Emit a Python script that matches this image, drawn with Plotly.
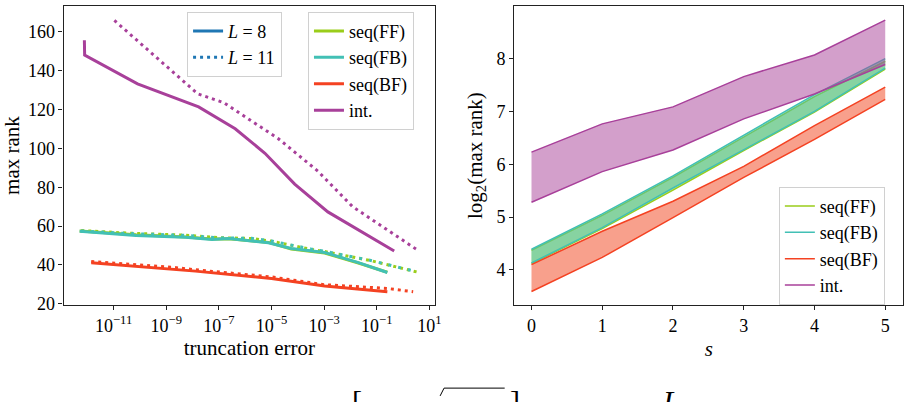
import plotly.graph_objects as go

W, H = 916, 402
FONT = "Liberation Serif"

# ---------------- data: left panel (max rank vs truncation error) ----------------
ff8_logerr = [-12.29, -10.15, -8.27, -7.26, -6.63, -5.12, -4.25, -2.98, -1.73, -0.60]
ff8_rank = [57.5, 55.5, 54.4, 53.3, 53.5, 51.6, 48.2, 46.1, 41.1, 36.2]
fb8_logerr = [-12.29, -10.15, -8.27, -7.26, -6.63, -5.12, -4.25, -2.98, -1.73, -0.60]
fb8_rank = [57.3, 55.2, 54.2, 53.1, 53.6, 51.4, 48.5, 46.4, 41.3, 36.1]
ff11_logerr = [-12.23, -10.5, -8.27, -7.0, -5.75, -5.0, -3.5, -2.98, -1.23, 0.54]
ff11_rank = [57.7, 56.4, 55.3, 54.0, 53.6, 52.2, 48.0, 46.9, 42.2, 36.3]
fb11_logerr = [-12.23, -10.5, -8.27, -7.0, -5.75, -5.0, -3.5, -2.98, -1.23, 0.54]
fb11_rank = [57.5, 56.2, 55.2, 53.9, 53.7, 52.3, 48.2, 47.0, 42.3, 36.4]
bf8_logerr = [-11.85, -8.77, -7.89, -5.0, -2.98, -0.60]
bf8_rank = [41.1, 38.0, 36.8, 33.0, 29.1, 26.2]
bf11_logerr = [-11.85, -8.77, -7.89, -5.0, -2.98, -0.60, 0.38]
bf11_rank = [41.7, 38.8, 37.5, 33.8, 29.8, 27.9, 26.2]
int8_logerr = [-12.11, -12.10, -10.09, -7.77, -6.38, -5.25, -4.12, -2.86, -0.34]
int8_rank = [155.7, 148.0, 133.2, 121.4, 110.1, 97.5, 81.6, 67.3, 47.2]
int11_logerr = [-10.97, -7.80, -6.82, -4.75, -3.24, -1.92, 0.54]
int11_rank = [165.9, 128.1, 123.6, 105.1, 88.3, 70.0, 47.7]

x_tick_exps = [-11, -9, -7, -5, -3, -1, 1]
y_ticks_left = [20, 40, 60, 80, 100, 120, 140, 160]

# ---------------- data: right panel (log2 max rank vs s) ----------------
s_vals = [0, 1, 2, 3, 4, 5]
ff_low = [4.12, 4.78, 5.51, 6.26, 6.99, 7.80]
ff_high = [4.37, 5.03, 5.75, 6.52, 7.28, 7.95]
fb_low = [4.13, 4.80, 5.55, 6.28, 7.00, 7.82]
fb_high = [4.39, 5.06, 5.78, 6.55, 7.32, 8.00]
bf_low = [3.59, 4.235, 4.99, 5.75, 6.47, 7.23]
bf_high = [4.10, 4.73, 5.30, 5.96, 6.73, 7.46]
int_low = [5.28, 5.86, 6.27, 6.86, 7.33, 7.89]
int_high = [6.23, 6.765, 7.087, 7.66, 8.07, 8.73]

method_names = ["seq(FF)", "seq(FB)", "seq(BF)", "int."]
C_FF = "#9acd1a"
C_FB = "#42c0b5"
C_BF = "#f44222"
C_INT = "#a8409a"
FILL = {"ff": "rgba(154,205,26,0.5)", "fb": "rgba(66,192,181,0.5)",
        "bf": "rgba(241,65,25,0.5)", "int": "rgba(167,63,151,0.5)"}
C_L = "#1f77b4"


def px_x(p):
    return p / W


def px_y(p):
    return 1 - p / H


def pw(v):
    return [10 ** e for e in v]


fig = go.Figure()

LW = 3
DOT = "3px,4px"
# left panel lines
fig.add_trace(go.Scatter(x=pw(ff8_logerr), y=ff8_rank, mode="lines", line=dict(color=C_FF, width=LW),
                         showlegend=False, xaxis="x", yaxis="y"))
fig.add_trace(go.Scatter(x=pw(ff11_logerr), y=ff11_rank, mode="lines", line=dict(color=C_FF, width=LW, dash=DOT),
                         showlegend=False, xaxis="x", yaxis="y"))
fig.add_trace(go.Scatter(x=pw(fb8_logerr), y=fb8_rank, mode="lines", line=dict(color=C_FB, width=LW),
                         showlegend=False, xaxis="x", yaxis="y"))
fig.add_trace(go.Scatter(x=pw(fb11_logerr), y=fb11_rank, mode="lines", line=dict(color=C_FB, width=LW, dash="3px,7px"),
                         showlegend=False, xaxis="x", yaxis="y"))
fig.add_trace(go.Scatter(x=pw(bf8_logerr), y=bf8_rank, mode="lines", line=dict(color=C_BF, width=LW),
                         showlegend=False, xaxis="x", yaxis="y"))
fig.add_trace(go.Scatter(x=pw(bf11_logerr), y=bf11_rank, mode="lines", line=dict(color=C_BF, width=LW, dash=DOT),
                         showlegend=False, xaxis="x", yaxis="y"))
fig.add_trace(go.Scatter(x=pw(int8_logerr), y=int8_rank, mode="lines", line=dict(color=C_INT, width=LW),
                         showlegend=False, xaxis="x", yaxis="y"))
fig.add_trace(go.Scatter(x=pw(int11_logerr), y=int11_rank, mode="lines", line=dict(color=C_INT, width=LW, dash=DOT),
                         showlegend=False, xaxis="x", yaxis="y"))

# legend 1 (line styles)
fig.add_trace(go.Scatter(x=[None], y=[None], mode="lines", line=dict(color=C_L, width=LW),
                         name="<i>L</i> = 8", legend="legend", xaxis="x", yaxis="y"))
fig.add_trace(go.Scatter(x=[None], y=[None], mode="lines", line=dict(color=C_L, width=LW, dash=DOT),
                         name="<i>L</i> = 11", legend="legend", xaxis="x", yaxis="y"))
# legend 2 (methods, thick)
for nm, c in zip(method_names, [C_FF, C_FB, C_BF, C_INT]):
    fig.add_trace(go.Scatter(x=[None], y=[None], mode="lines", line=dict(color=c, width=LW),
                             name=nm, legend="legend2", xaxis="x", yaxis="y"))

# right panel bands
bands = [("ff", ff_low, ff_high, C_FF), ("fb", fb_low, fb_high, C_FB),
         ("bf", bf_low, bf_high, C_BF), ("int", int_low, int_high, C_INT)]
for key, lo, hi, c in bands:
    fig.add_trace(go.Scatter(x=s_vals, y=lo, mode="lines", line=dict(color=c, width=1.5),
                             showlegend=False, xaxis="x2", yaxis="y2"))
    fig.add_trace(go.Scatter(x=s_vals, y=hi, mode="lines", line=dict(color=c, width=1.5),
                             fill="tonexty", fillcolor=FILL[key],
                             showlegend=False, xaxis="x2", yaxis="y2"))
# legend 3
for nm, c in zip(method_names, [C_FF, C_FB, C_BF, C_INT]):
    fig.add_trace(go.Scatter(x=[None], y=[None], mode="lines", line=dict(color=c, width=1.5),
                             name=nm, legend="legend3", xaxis="x2", yaxis="y2"))

axis_common = dict(showline=True, mirror=True, linecolor="#222", linewidth=1.2,
                   ticks="outside", ticklen=4, tickcolor="#222", showgrid=False, zeroline=False,
                   tickfont=dict(family=FONT, size=18, color="black"))

leg_common = dict(xanchor="left", yanchor="top", bgcolor="rgba(255,255,255,0.85)",
                  bordercolor="#d0d0d0", borderwidth=1, font=dict(family=FONT, size=18, color="black"),
                  tracegroupgap=0, itemwidth=30, traceorder="normal")

fig.update_layout(
    width=W, height=H, margin=dict(l=0, r=0, t=0, b=0),
    paper_bgcolor="white", plot_bgcolor="white",
    font=dict(family=FONT, size=18, color="black"),
    xaxis=dict(domain=[px_x(64), px_x(438)], anchor="y", type="log", range=[-12.9, 1.215],
               tickvals=[10 ** e for e in x_tick_exps],
               ticktext=["10<sup>%s</sup>" % (str(e).replace("-", "\u2212")) for e in x_tick_exps],
               title=dict(text="truncation error", font=dict(family=FONT, size=21), standoff=4),
               **axis_common),
    yaxis=dict(domain=[px_y(312.3), px_y(6)], anchor="x", range=[19.2, 173.4], tickvals=y_ticks_left,
               title=dict(text="max rank", font=dict(family=FONT, size=21), standoff=8),
               **axis_common),
    xaxis2=dict(domain=[px_x(517.7), px_x(909.3)], anchor="y2", range=[-0.243, 5.256], tickvals=s_vals,
                title=dict(text="<i>s</i>", font=dict(family=FONT, size=21), standoff=6),
                **axis_common),
    yaxis2=dict(domain=[px_y(312.3), px_y(6)], anchor="x2", range=[3.328, 9.0], tickvals=[4, 5, 6, 7, 8],
                title=dict(text="log<sub>2</sub>(max rank)", font=dict(family=FONT, size=21), standoff=8),
                **axis_common),
    legend=dict(x=px_x(188.3), y=px_y(12), **leg_common),
    legend2=dict(x=px_x(310), y=px_y(12), **leg_common),
    legend3=dict(x=px_x(784), y=px_y(191), **leg_common),
)

# clipped caption fragments at the very bottom
for txt, xp in [("[", 359), ("]", 518), ("<i>L</i>", 675)]:
    fig.add_annotation(text=txt, x=px_x(xp), y=px_y(391), xref="paper", yref="paper",
                       xanchor="center", yanchor="top", showarrow=False,
                       font=dict(family=FONT, size=30, color="black"))
fig.add_shape(type="line", xref="paper", yref="paper", x0=px_x(447), x1=px_x(508),
              y0=px_y(397), y1=px_y(397), line=dict(color="black", width=1))
fig.add_shape(type="line", xref="paper", yref="paper", x0=px_x(443), x1=px_x(447),
              y0=px_y(405), y1=px_y(397), line=dict(color="black", width=1))

fig.write_html("out.html")
